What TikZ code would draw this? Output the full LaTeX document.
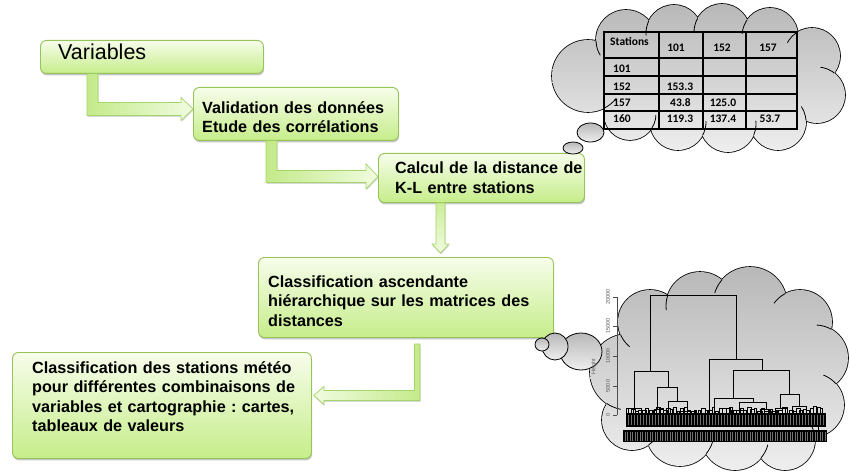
\documentclass[tikz,border=0pt]{standalone}
\usepackage{fontspec}
\setmainfont{Liberation Sans}
\newfontfamily\calfont{Carlito}
\usetikzlibrary{shadows,calc}
\definecolor{gtop}{RGB}{247,253,235}
\definecolor{gbot}{RGB}{198,237,138}
\definecolor{gborder}{RGB}{150,196,88}
\definecolor{aleft}{RGB}{196,234,138}
\definecolor{aright}{RGB}{240,252,224}
\definecolor{aborder}{RGB}{165,212,105}
\definecolor{ctop}{RGB}{184,184,184}
\definecolor{cbot}{RGB}{238,238,238}
\frenchspacing
% inner arc of a cloud at the outer cusp of two puffs: #1 centre x, #2 centre y of the cloud, #3..#8 puff a and puff b
\newcommand\cuspArc[8]{%
  \pgfmathsetmacro\cdx{#6-#3}\pgfmathsetmacro\cdy{#7-#4}%
  \pgfmathsetmacro\cdd{veclen(\cdx,\cdy)}%
  \pgfmathsetmacro\caa{(#5*#5-#8*#8+\cdd*\cdd)/(2*\cdd)}%
  \pgfmathsetmacro\chh{sqrt(max(#5*#5-\caa*\caa,0))}%
  \pgfmathsetmacro\cpx{#3+\caa*\cdx/\cdd}\pgfmathsetmacro\cpy{#4+\caa*\cdy/\cdd}%
  \pgfmathsetmacro\cnx{-\cdy/\cdd}\pgfmathsetmacro\cny{\cdx/\cdd}%
  \pgfmathsetmacro\csg{(((\cpx-#1)*\cnx+(\cpy-#2)*\cny)>0) ? 1 : -1}%
  \pgfmathsetmacro\cqx{\cpx+\csg*\chh*\cnx}\pgfmathsetmacro\cqy{\cpy+\csg*\chh*\cny}%
  \begin{scope}
    \clip (\cqx,\cqy) circle[radius=15];
    \clip (#3,#4) circle[radius=#5];
    \path[inarc] (#6,#7) circle[radius=#8];
  \end{scope}}
\begin{document}
\begin{tikzpicture}[x=1pt,y=-1pt,
  gbox/.style={draw=gborder, line width=0.9pt, rounded corners=6pt, top color=gtop, bottom color=gbot,
    anchor=north west, inner sep=0pt, drop shadow={shadow xshift=0.6pt, shadow yshift=-2pt, opacity=0.45}},
  tx/.style={anchor=base west, inner sep=0pt, align=left, text width=320pt},
  btx/.style={tx, font=\fontsize{16.2}{19.5}\selectfont\bfseries},
  arrowst/.style={draw=aborder, line width=0.7pt, drop shadow={shadow xshift=0.5pt, shadow yshift=-1.5pt, opacity=0.3}},
  cloudst/.style={draw=black, line width=0.8pt, top color=ctop, bottom color=cbot},
  cloudline/.style={draw=black, line width=1.6pt},
  cloudfill/.style={top color=ctop, bottom color=cbot},
  inarc/.style={draw=black, line width=0.8pt},
  tline/.style={line width=1.2pt, black},
  ttx/.style={inner sep=0pt, font=\calfont\bfseries\fontsize{11.5}{13}\selectfont},
  dl/.style={line width=1pt, black},
  axl/.style={inner sep=0pt, rotate=90, text=black!65, font=\fontsize{5.5}{6}\selectfont}]
\useasboundingbox (0,0) rectangle (850,473);

% ---------- boxes ----------
\node[gbox, minimum width=223pt, minimum height=33pt] (var) at (40,40) {};
\node[gbox, minimum width=205pt, minimum height=53pt] (val) at (193,87) {};
\node[gbox, minimum width=206pt, minimum height=49pt] (cal) at (378,153) {};
\node[gbox, minimum width=295pt, minimum height=80pt] (asc) at (258,257) {};
\node[gbox, minimum width=299pt, minimum height=106pt] (bot) at (12,352) {};

\node[tx, font=\fontsize{21.5}{24}\selectfont] (tvar) at (58,60) {Variables};
\node[btx] (tval) at (202,113.5) {Validation des données\\Etude des corrélations};
\node[btx] (tcal) at (395,174) {Calcul de la distance de\\K-L entre stations};
\node[btx] (tasc) at (268,287) {Classification ascendante\\hiérarchique sur les matrices des\\distances};
\node[btx] (tbot) at (32,373) {Classification des stations météo\\pour différentes combinaisons de\\variables et cartographie : cartes,\\tableaux de valeurs};

% ---------- block arrows ----------
\coordinate (a1s) at ($(var.south west)+(47,0)$);
\coordinate (a1t) at ($(val.west)+(0,-5)$);
\path[arrowst, left color=aleft, right color=aright]
  (a1s) -- ++(11,0) |- ($(a1t)+(-12,-6.5)$) -- ++(0,-5) -- (a1t) -- ($(a1t)+(-12,11.5)$) -- ++(0,-5) -| (a1s) -- cycle;

\coordinate (a2s) at ($(val.south west)+(73,0)$);
\coordinate (a2t) at ($(cal.west)+(0,-1.5)$);
\path[arrowst, left color=aleft, right color=aright]
  (a2s) -- ++(11,0) |- ($(a2t)+(-12,-6)$) -- ++(0,-6.5) -- (a2t) -- ($(a2t)+(-12,12.5)$) -- ++(0,-6.5) -| (a2s) -- cycle;

\coordinate (a3s) at ($(cal.south west)+(58,0)$);
\coordinate (a3t) at ($(asc.north west)+(182.5,-4)$);
\path[arrowst, top color=aleft!80!aright, bottom color=aright]
  (a3s) -- ++(9,0) |- ($(a3t)+(4.5,-9)$) -- ++(4,0) -- (a3t) -- ($(a3t)+(-8.5,-9)$) -- ++(4,0) -- cycle;

\coordinate (a4s) at ($(asc.south west)+(156.5,6)$);
\coordinate (a4t) at ($(bot.east)+(2,-10)$);
\path[arrowst, left color=aright, right color=aleft]
  (a4s) -- ++(5.5,0) |- ($(a4t)+(10,5)$) -- ++(0,4) -- (a4t) -- ($(a4t)+(10,-9)$) -- ++(0,4) -| (a4s) -- cycle;

% ---------- cloud 1 with distance table ----------
\def\cloudA{588/76/36,626/40/30,674/33/28,722/32/28,770/36/28,812/56/28,817/95/28,778/122/28,728/124/28,678/122/28,630/114/26}
\path[cloudline] foreach \cx/\cy/\r in \cloudA {(\cx,\cy) circle[radius=\r]};
\path[cloudfill] foreach \cx/\cy/\r in \cloudA {(\cx,\cy) circle[radius=\r]} (700,78) ellipse[x radius=115, y radius=52];
\foreach \ax/\ay/\ar/\bx/\by/\br in {588/76/36/626/40/30, 626/40/30/674/33/28, 674/33/28/722/32/28, 722/32/28/770/36/28,
   770/36/28/812/56/28, 812/56/28/817/95/28, 817/95/28/778/122/28, 778/122/28/728/124/28, 728/124/28/678/122/28,
   678/122/28/630/114/26, 630/114/26/588/76/36}{
  \cuspArc{700}{78}{\ax}{\ay}{\ar}{\bx}{\by}{\br}}
\path[cloudst] (590.5,132.5) ellipse [x radius=13.5, y radius=9.5];
\path[cloudst] (573,148) ellipse [x radius=10, y radius=6];

\draw[tline] (604,32) rectangle (797,129);
\foreach \x in {659,703,746} \draw[tline] (\x,32) -- (\x,129);
\foreach \y in {58,76,94,111} \draw[tline] (604,\y) -- (797,\y);
\node[ttx, anchor=base west] (h0) at (610,45.5) {Stations};
\node[ttx, anchor=base] (h1) at (676,51.5) {101};
\node[ttx, anchor=base] (h2) at (722,51.5) {152};
\node[ttx, anchor=base] (h3) at (768,51.5) {157};
\node[ttx, anchor=base west] (r1) at (613,73) {101};
\node[ttx, anchor=base west] (r2) at (613,91) {152};
\node[ttx, anchor=base west] (r3) at (613,107) {157};
\node[ttx, anchor=base west] (r4) at (613,123) {160};
\node[ttx, anchor=base] (v21) at (680,91) {153.3};
\node[ttx, anchor=base] (v31) at (680.5,107) {43.8};
\node[ttx, anchor=base] (v32) at (723,107) {125.0};
\node[ttx, anchor=base] (v41) at (680,123) {119.3};
\node[ttx, anchor=base] (v42) at (723,123) {137.4};
\node[ttx, anchor=base] (v43) at (770,123) {53.7};

% ---------- cloud 2 with dendrogram ----------
\def\cloudB{628/372/38,650/322/32,700/306/34,750/304/37,800/322/32,815/358/33,812/405/32,785/440/30,735/436/34,680/432/34,632/420/30}
\path[cloudline] foreach \cx/\cy/\r in \cloudB {(\cx,\cy) circle[radius=\r]};
\path[cloudfill] foreach \cx/\cy/\r in \cloudB {(\cx,\cy) circle[radius=\r]} (720,370) ellipse[x radius=100, y radius=68];
\foreach \ax/\ay/\ar/\bx/\by/\br in {628/372/38/650/322/32, 650/322/32/700/306/34, 700/306/34/750/304/37, 750/304/37/800/322/32,
   800/322/32/815/358/33, 815/358/33/812/405/32, 812/405/32/785/440/30, 785/440/30/735/436/34, 735/436/34/680/432/34,
   680/432/34/632/420/30, 632/420/30/628/372/38}{
  \cuspArc{720}{370}{\ax}{\ay}{\ar}{\bx}{\by}{\br}}
\path[cloudst] (581,351.5) ellipse [x radius=21, y radius=18.5];
\path[cloudst] (555,346.5) ellipse [x radius=13, y radius=13.5];
\path[cloudst] (542,344.5) ellipse [x radius=7, y radius=6.5];

% axis
\draw[black!70, line width=0.6pt] (617,297) -- (617,415);
\foreach \y/\l in {415/0,386/5000,356/10000,326/15000,297/20000}{
  \draw[black!70, line width=0.6pt] (613,\y) -- (617,\y);
  \node[axl] at (608,\y) {\l};}
\node[axl] (hgt) at (594,367) {Height};

% tree
\draw[dl] (650,371) -- (650,295) -- (736,295) -- (736,359);
\draw[dl] (634,408) -- (634,371) -- (668,371) -- (668,387);
\draw[dl] (626,413) -- (626,408) -- (641,408) -- (641,413);
\draw[dl] (657,409) -- (657,387) -- (677,387) -- (677,401);
\draw[dl] (654,413) -- (654,409) -- (663,409) -- (663,413);
\draw[dl] (668,413) -- (668,401) -- (687,401) -- (687,411);
\draw[dl] (680,413) -- (680,411) -- (694,411) -- (694,413);
\draw[dl] (709,413) -- (709,359) -- (762,359) -- (762,370);
\draw[dl] (733,398) -- (733,370) -- (789,370) -- (789,394);
\draw[dl] (714,413) -- (714,398) -- (753,398) -- (753,402);
\draw[dl] (739,410) -- (739,402) -- (766,402) -- (766,409);
\draw[dl] (731,413) -- (731,410) -- (747,410) -- (747,413);
\draw[dl] (760,413) -- (760,409) -- (772,409) -- (772,413);
\draw[dl] (780,408) -- (780,394) -- (799,394) -- (799,406);
\draw[dl] (775,413) -- (775,408) -- (787,408) -- (787,413);
\draw[dl] (792,413) -- (792,406) -- (806,406) -- (806,413);
\pgfmathsetseed{11}
\foreach \x in {628,631.5,...,823}{
  \pgfmathsetmacro\hh{411.5-5*rnd}
  \pgfmathsetmacro\ww{2+3*rnd}
  \draw[line width=0.5pt] (\x,413) -- (\x,\hh) -- (\x+\ww,\hh) -- (\x+\ww,413);}
\fill[black] (626,412.5) rectangle (826,427);
\foreach \x in {628,631,...,825} \draw[black!55, line width=0.3pt] (\x,415) -- (\x,425);
\draw[dl] (818,413) -- (818,433);
\fill[black] (623,430) rectangle (827,442);
\foreach \x in {625,627.5,...,826} \draw[black!55, line width=0.3pt] (\x,431.5) -- (\x,440.5);
\end{tikzpicture}
\end{document}
